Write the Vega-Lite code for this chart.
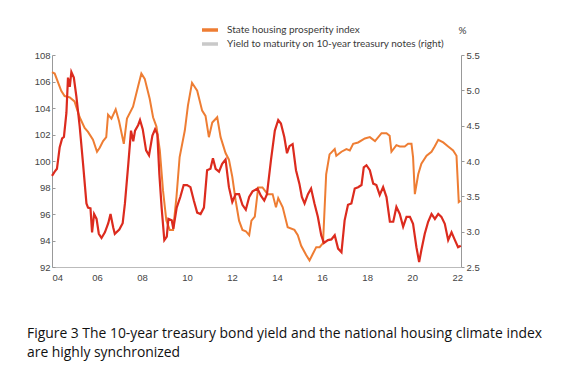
{
  "$schema": "https://vega.github.io/schema/vega-lite/v6.json",
  "autosize": {"type": "none"},
  "padding": {"left": 52, "top": 55, "right": 104, "bottom": 110},
  "width": 409,
  "height": 212,
  "background": "white",
  "config": {"view": {"stroke": null}},
  "title": {
    "text": ["Figure 3 The 10-year treasury bond yield and the national housing climate index", "are highly synchronized"],
    "orient": "bottom",
    "anchor": "start",
    "frame": "group",
    "dx": -25,
    "offset": 45,
    "font": "Open Sans",
    "fontSize": 13.9,
    "fontWeight": "normal",
    "color": "#111111",
    "lineHeight": 19.5
  },
  "datasets": {
    "housing": [
      {"year": 2004.0, "v": 106.7}, {"year": 2004.12, "v": 106.6}, {"year": 2004.41, "v": 105.3}, {"year": 2004.56, "v": 104.9},
      {"year": 2004.79, "v": 104.8}, {"year": 2005.0, "v": 104.5}, {"year": 2005.23, "v": 103.3}, {"year": 2005.45, "v": 102.5},
      {"year": 2005.6, "v": 102.2}, {"year": 2005.82, "v": 101.6}, {"year": 2006.0, "v": 100.7}, {"year": 2006.12, "v": 101.0},
      {"year": 2006.27, "v": 101.5}, {"year": 2006.41, "v": 101.8}, {"year": 2006.49, "v": 103.5}, {"year": 2006.64, "v": 103.2},
      {"year": 2006.83, "v": 103.9}, {"year": 2006.98, "v": 103.0}, {"year": 2007.19, "v": 101.3}, {"year": 2007.33, "v": 103.2},
      {"year": 2007.6, "v": 104.1}, {"year": 2007.82, "v": 105.6}, {"year": 2007.97, "v": 106.6}, {"year": 2008.12, "v": 106.2},
      {"year": 2008.34, "v": 104.7}, {"year": 2008.49, "v": 103.3}, {"year": 2008.64, "v": 102.6}, {"year": 2008.79, "v": 100.8},
      {"year": 2008.93, "v": 97.8}, {"year": 2009.08, "v": 95.5}, {"year": 2009.23, "v": 94.8}, {"year": 2009.38, "v": 94.8},
      {"year": 2009.53, "v": 97.3}, {"year": 2009.67, "v": 100.3}, {"year": 2009.9, "v": 102.3}, {"year": 2010.04, "v": 104.2},
      {"year": 2010.22, "v": 105.9}, {"year": 2010.45, "v": 105.3}, {"year": 2010.67, "v": 103.8}, {"year": 2010.82, "v": 103.4},
      {"year": 2010.97, "v": 101.8}, {"year": 2011.12, "v": 102.9}, {"year": 2011.34, "v": 103.3}, {"year": 2011.49, "v": 101.8},
      {"year": 2011.71, "v": 100.6}, {"year": 2011.86, "v": 100.1}, {"year": 2012.01, "v": 98.8}, {"year": 2012.16, "v": 97.0},
      {"year": 2012.31, "v": 95.5}, {"year": 2012.46, "v": 94.8}, {"year": 2012.61, "v": 94.7}, {"year": 2012.76, "v": 94.4},
      {"year": 2012.86, "v": 95.5}, {"year": 2013.01, "v": 95.8}, {"year": 2013.16, "v": 98.0}, {"year": 2013.35, "v": 98.0},
      {"year": 2013.58, "v": 97.5}, {"year": 2013.8, "v": 97.5}, {"year": 2013.95, "v": 96.5}, {"year": 2014.05, "v": 97.2},
      {"year": 2014.25, "v": 96.5}, {"year": 2014.47, "v": 95.0}, {"year": 2014.77, "v": 94.8}, {"year": 2014.92, "v": 94.4},
      {"year": 2015.07, "v": 93.6}, {"year": 2015.29, "v": 92.9}, {"year": 2015.44, "v": 92.5}, {"year": 2015.59, "v": 93.0},
      {"year": 2015.74, "v": 93.5}, {"year": 2015.89, "v": 93.5}, {"year": 2016.04, "v": 93.8}, {"year": 2016.18, "v": 99.0},
      {"year": 2016.33, "v": 100.5}, {"year": 2016.56, "v": 100.9}, {"year": 2016.63, "v": 100.4}, {"year": 2016.86, "v": 100.7},
      {"year": 2017.08, "v": 100.9}, {"year": 2017.23, "v": 100.8}, {"year": 2017.38, "v": 101.3}, {"year": 2017.6, "v": 101.4},
      {"year": 2017.9, "v": 101.7}, {"year": 2018.12, "v": 101.8}, {"year": 2018.35, "v": 101.5}, {"year": 2018.64, "v": 102.1},
      {"year": 2018.86, "v": 102.1}, {"year": 2019.0, "v": 101.9}, {"year": 2019.08, "v": 100.7}, {"year": 2019.3, "v": 101.2},
      {"year": 2019.45, "v": 101.1}, {"year": 2019.67, "v": 101.1}, {"year": 2019.82, "v": 101.3}, {"year": 2019.97, "v": 101.3},
      {"year": 2020.04, "v": 100.3}, {"year": 2020.12, "v": 97.5}, {"year": 2020.27, "v": 99.0}, {"year": 2020.41, "v": 99.8},
      {"year": 2020.64, "v": 100.4}, {"year": 2020.86, "v": 100.7}, {"year": 2021.0, "v": 101.1}, {"year": 2021.16, "v": 101.6},
      {"year": 2021.38, "v": 101.4}, {"year": 2021.6, "v": 101.1}, {"year": 2021.82, "v": 100.8}, {"year": 2021.97, "v": 100.4},
      {"year": 2022.07, "v": 96.9}, {"year": 2022.15, "v": 97.0}
    ],
    "yield": [
      {"year": 2004.0, "v": 3.79}, {"year": 2004.12, "v": 3.85}, {"year": 2004.22, "v": 3.89}, {"year": 2004.34, "v": 4.19},
      {"year": 2004.45, "v": 4.32}, {"year": 2004.53, "v": 4.34}, {"year": 2004.64, "v": 4.68}, {"year": 2004.71, "v": 5.18},
      {"year": 2004.79, "v": 5.05}, {"year": 2004.86, "v": 5.26}, {"year": 2004.97, "v": 5.18}, {"year": 2005.08, "v": 4.92},
      {"year": 2005.23, "v": 4.49}, {"year": 2005.38, "v": 3.96}, {"year": 2005.53, "v": 3.4}, {"year": 2005.6, "v": 3.34},
      {"year": 2005.71, "v": 3.33}, {"year": 2005.78, "v": 2.99}, {"year": 2005.87, "v": 3.25}, {"year": 2005.98, "v": 3.18},
      {"year": 2006.08, "v": 2.97}, {"year": 2006.2, "v": 2.91}, {"year": 2006.35, "v": 2.99}, {"year": 2006.5, "v": 3.12},
      {"year": 2006.6, "v": 3.25}, {"year": 2006.72, "v": 3.06}, {"year": 2006.79, "v": 2.97}, {"year": 2006.99, "v": 3.03},
      {"year": 2007.14, "v": 3.12}, {"year": 2007.24, "v": 3.4}, {"year": 2007.39, "v": 3.96}, {"year": 2007.51, "v": 4.43},
      {"year": 2007.61, "v": 4.28}, {"year": 2007.69, "v": 4.43}, {"year": 2007.83, "v": 4.51}, {"year": 2007.91, "v": 4.58},
      {"year": 2008.03, "v": 4.45}, {"year": 2008.18, "v": 4.15}, {"year": 2008.31, "v": 4.08}, {"year": 2008.46, "v": 4.36},
      {"year": 2008.58, "v": 4.45}, {"year": 2008.68, "v": 4.38}, {"year": 2008.77, "v": 3.81}, {"year": 2008.87, "v": 3.34},
      {"year": 2008.99, "v": 2.88}, {"year": 2009.1, "v": 2.93}, {"year": 2009.17, "v": 3.18}, {"year": 2009.32, "v": 3.16},
      {"year": 2009.39, "v": 3.04}, {"year": 2009.54, "v": 3.34}, {"year": 2009.7, "v": 3.49}, {"year": 2009.85, "v": 3.66},
      {"year": 2010.0, "v": 3.66}, {"year": 2010.15, "v": 3.63}, {"year": 2010.3, "v": 3.44}, {"year": 2010.45, "v": 3.27},
      {"year": 2010.6, "v": 3.25}, {"year": 2010.75, "v": 3.34}, {"year": 2010.89, "v": 3.87}, {"year": 2011.04, "v": 3.89},
      {"year": 2011.15, "v": 4.04}, {"year": 2011.27, "v": 3.89}, {"year": 2011.42, "v": 3.85}, {"year": 2011.56, "v": 3.96},
      {"year": 2011.71, "v": 4.02}, {"year": 2011.86, "v": 3.63}, {"year": 2012.01, "v": 3.42}, {"year": 2012.16, "v": 3.53},
      {"year": 2012.31, "v": 3.53}, {"year": 2012.46, "v": 3.38}, {"year": 2012.61, "v": 3.31}, {"year": 2012.76, "v": 3.49},
      {"year": 2012.91, "v": 3.57}, {"year": 2013.13, "v": 3.61}, {"year": 2013.28, "v": 3.51}, {"year": 2013.43, "v": 3.44},
      {"year": 2013.55, "v": 3.53}, {"year": 2013.73, "v": 4.02}, {"year": 2013.9, "v": 4.43}, {"year": 2014.05, "v": 4.58},
      {"year": 2014.17, "v": 4.53}, {"year": 2014.32, "v": 4.34}, {"year": 2014.44, "v": 4.11}, {"year": 2014.55, "v": 4.21},
      {"year": 2014.69, "v": 4.24}, {"year": 2014.84, "v": 3.87}, {"year": 2014.99, "v": 3.68}, {"year": 2015.1, "v": 3.49},
      {"year": 2015.22, "v": 3.4}, {"year": 2015.37, "v": 3.53}, {"year": 2015.51, "v": 3.61}, {"year": 2015.66, "v": 3.4},
      {"year": 2015.81, "v": 3.21}, {"year": 2015.96, "v": 2.95}, {"year": 2016.08, "v": 2.84}, {"year": 2016.26, "v": 2.88},
      {"year": 2016.41, "v": 2.89}, {"year": 2016.56, "v": 2.95}, {"year": 2016.71, "v": 2.76}, {"year": 2016.86, "v": 2.71},
      {"year": 2017.0, "v": 3.16}, {"year": 2017.15, "v": 3.38}, {"year": 2017.3, "v": 3.4}, {"year": 2017.45, "v": 3.61},
      {"year": 2017.6, "v": 3.63}, {"year": 2017.75, "v": 3.66}, {"year": 2017.85, "v": 3.91}, {"year": 2017.97, "v": 3.94},
      {"year": 2018.12, "v": 3.87}, {"year": 2018.27, "v": 3.68}, {"year": 2018.41, "v": 3.66}, {"year": 2018.56, "v": 3.52},
      {"year": 2018.71, "v": 3.63}, {"year": 2018.86, "v": 3.49}, {"year": 2019.01, "v": 3.14}, {"year": 2019.16, "v": 3.14},
      {"year": 2019.3, "v": 3.35}, {"year": 2019.45, "v": 3.25}, {"year": 2019.6, "v": 3.07}, {"year": 2019.75, "v": 3.21},
      {"year": 2019.9, "v": 3.21}, {"year": 2020.04, "v": 3.11}, {"year": 2020.19, "v": 2.78}, {"year": 2020.31, "v": 2.57},
      {"year": 2020.41, "v": 2.74}, {"year": 2020.56, "v": 2.97}, {"year": 2020.71, "v": 3.14}, {"year": 2020.86, "v": 3.25},
      {"year": 2021.01, "v": 3.18}, {"year": 2021.16, "v": 3.25}, {"year": 2021.3, "v": 3.21}, {"year": 2021.45, "v": 3.11},
      {"year": 2021.6, "v": 2.88}, {"year": 2021.75, "v": 2.99}, {"year": 2021.9, "v": 2.88}, {"year": 2022.04, "v": 2.78},
      {"year": 2022.16, "v": 2.8}
    ]
  },
  "layer": [
    {
      "data": {"name": "housing"},
      "transform": [{"calculate": "'State housing prosperity index'", "as": "series"}],
      "mark": {"type": "line", "strokeWidth": 2, "interpolate": "linear"},
      "encoding": {
        "x": {
          "field": "year", "type": "quantitative",
          "scale": {"domain": [2004, 2022.17], "nice": false, "zero": false},
          "axis": {
            "title": null,
            "values": [2004, 2006, 2008, 2010, 2012, 2014, 2016, 2018, 2020, 2022],
            "format": "d",
            "labelExpr": "substring(datum.label, 2)",
            "grid": false,
            "domainColor": "#bbbbbb",
            "tickColor": "#dddddd",
            "tickSize": 0,
            "labelPadding": 5,
            "labelFont": "Liberation Sans",
            "labelFontSize": 9.5,
            "labelColor": "#444444"
          }
        },
        "y": {
          "field": "v", "type": "quantitative",
          "scale": {"domain": [92, 108], "nice": false, "zero": false},
          "axis": {
            "title": null,
            "values": [92, 94, 96, 98, 100, 102, 104, 106, 108],
            "grid": false,
            "domainColor": "#999999",
            "tickColor": "#999999",
            "tickSize": -3,
            "labelPadding": 5,
            "labelFont": "Liberation Sans",
            "labelFontSize": 9.5,
            "labelColor": "#444444"
          }
        },
        "color": {
          "field": "series", "type": "nominal",
          "scale": {
            "domain": ["State housing prosperity index", "Yield to maturity on 10-year treasury notes (right)"],
            "range": ["#EE7D33", "#c9c9c9"]
          },
          "legend": {
            "title": null,
            "orient": "none",
            "legendX": 152,
            "legendY": -31,
            "symbolType": "M-2,0H2",
            "symbolSize": 64,
            "symbolStrokeWidth": 3.5,
            "labelFont": "Lato",
            "labelFontSize": 10,
            "labelLimit": 400,
            "labelColor": "#3a3a3a",
            "labelOffset": 11,
            "rowPadding": 0
          }
        }
      }
    },
    {
      "data": {"name": "yield"},
      "mark": {"type": "line", "strokeWidth": 2.2, "color": "#DC2B1E", "interpolate": "linear"},
      "encoding": {
        "x": {"field": "year", "type": "quantitative"},
        "y": {
          "field": "v", "type": "quantitative",
          "scale": {"domain": [2.5, 5.5], "nice": false, "zero": false},
          "axis": {
            "orient": "right",
            "title": "%",
            "titleAngle": 0,
            "titleX": -3,
            "titleY": -25,
            "titleAlign": "left",
            "titleBaseline": "middle",
            "titleFont": "Lato",
            "titleFontSize": 10,
            "titleFontWeight": "normal",
            "titleColor": "#3a3a3a",
            "values": [2.5, 3.0, 3.5, 4.0, 4.5, 5.0, 5.5],
            "format": ".1f",
            "grid": false,
            "domainColor": "#999999",
            "tickColor": "#999999",
            "tickSize": 3,
            "labelPadding": 2,
            "labelFont": "Liberation Sans",
            "labelFontSize": 9.5,
            "labelColor": "#444444"
          }
        }
      }
    }
  ],
  "resolve": {"scale": {"y": "independent"}}
}
